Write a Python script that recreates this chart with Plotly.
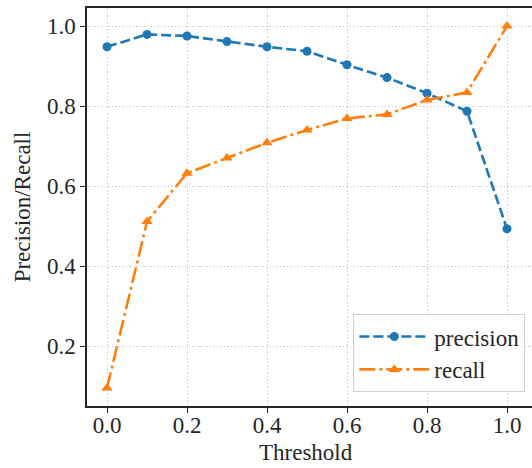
import plotly.graph_objects as go

thresholds = [0.0, 0.1, 0.2, 0.3, 0.4, 0.5, 0.6, 0.7, 0.8, 0.9, 1.0]
precision = [0.948, 0.979, 0.975, 0.961, 0.948, 0.937, 0.903, 0.871, 0.832, 0.787, 0.493]
recall = [0.095, 0.511, 0.632, 0.670, 0.708, 0.740, 0.769, 0.779, 0.815, 0.834, 1.0]
x_ticks = [0.0, 0.2, 0.4, 0.6, 0.8, 1.0]
x_tick_labels = ["0.0", "0.2", "0.4", "0.6", "0.8", "1.0"]
y_ticks = [0.2, 0.4, 0.6, 0.8, 1.0]
y_tick_labels = ["0.2", "0.4", "0.6", "0.8", "1.0"]
x_title = "Threshold"
y_title = "Precision/Recall"

FONT = "Liberation Serif"
TXT = "#262626"

fig = go.Figure()
fig.add_trace(go.Scatter(
    x=thresholds, y=precision, name="precision", mode="lines+markers",
    line=dict(color="#1f77b4", width=2.6, dash="10px,4px"),
    marker=dict(symbol="circle", size=9, color="#1f77b4"),
))
fig.add_trace(go.Scatter(
    x=thresholds, y=recall, name="recall", mode="lines+markers",
    line=dict(color="#ff7f0e", width=2.6, dash="16px,4px,3px,4px"),
    marker=dict(symbol="triangle-up", size=10, color="#ff7f0e"),
))

axis_common = dict(
    showgrid=True, gridcolor="#cfcfcf", griddash="1.5px,2px", gridwidth=1,
    showline=True, linecolor=TXT, linewidth=1.5,
    ticks="outside", ticklen=5, tickwidth=1.3, tickcolor=TXT,
    tickfont=dict(family=FONT, size=23, color=TXT),
    zeroline=False, automargin=False,
)

fig.update_layout(
    template="none",
    width=532, height=468,
    margin=dict(l=87, r=0, t=8, b=62),
    plot_bgcolor="white", paper_bgcolor="white",
    font=dict(family=FONT, size=23, color=TXT),
    xaxis=dict(
        range=[-0.05, 1.0625], tickvals=x_ticks, ticktext=x_tick_labels,
        ticklabelstandoff=-7,
        mirror=True, **axis_common,
    ),
    yaxis=dict(
        range=[0.05, 1.045], tickvals=y_ticks, ticktext=y_tick_labels,
        title=dict(text=y_title, font=dict(family=FONT, size=23, color=TXT), standoff=10),
        **axis_common,
    ),
    legend=dict(
        x=0.985, y=0.035, xanchor="right", yanchor="bottom",
        bgcolor="rgba(255,255,255,0.85)", bordercolor="#d0d0d0", borderwidth=1,
        font=dict(family=FONT, size=23, color=TXT),
        itemwidth=70,
    ),
    showlegend=True,
)
fig.add_annotation(
    text=x_title, xref="paper", yref="paper", x=0.493, y=-0.118,
    xanchor="center", yanchor="middle", showarrow=False,
    font=dict(family=FONT, size=23, color=TXT),
)

fig.write_html("out.html")
